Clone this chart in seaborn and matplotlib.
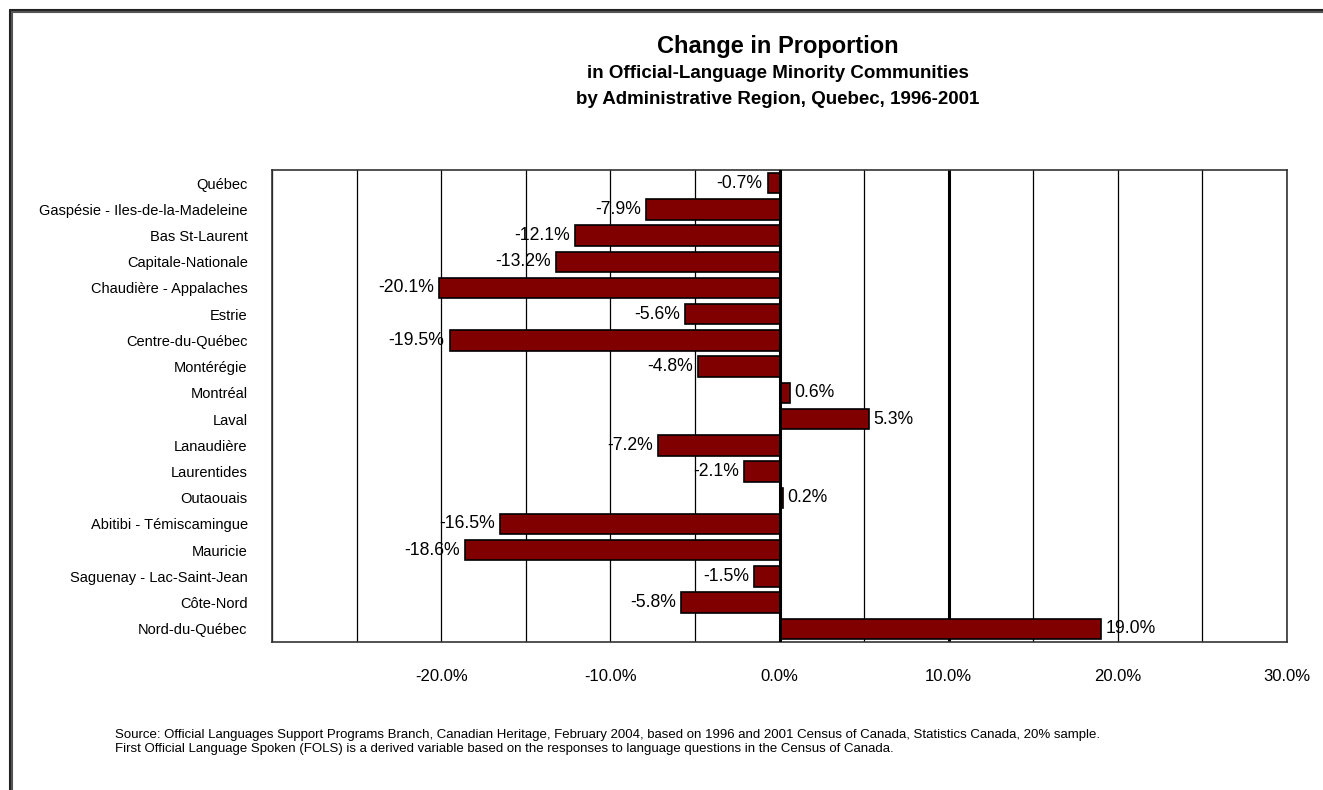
import matplotlib
matplotlib.use("Agg")
import matplotlib.pyplot as plt
import seaborn as sns
import pandas as pd
from matplotlib.lines import Line2D

regions = ["Québec", "Gaspésie - Iles-de-la-Madeleine", "Bas St-Laurent", "Capitale-Nationale",
           "Chaudière - Appalaches", "Estrie", "Centre-du-Québec", "Montérégie", "Montréal",
           "Laval", "Lanaudière", "Laurentides", "Outaouais", "Abitibi - Témiscamingue",
           "Mauricie", "Saguenay - Lac-Saint-Jean", "Côte-Nord", "Nord-du-Québec"]
change_pct = [-0.7, -7.9, -12.1, -13.2, -20.1, -5.6, -19.5, -4.8, 0.6,
              5.3, -7.2, -2.1, 0.2, -16.5, -18.6, -1.5, -5.8, 19.0]
tick_values = [-30, -25, -20, -15, -10, -5, 0, 5, 10, 15, 20, 25, 30]
tick_labels = ["", "", "-20.0%", "", "-10.0%", "", "0.0%", "", "10.0%", "", "20.0%", "", "30.0%"]

title = "Change in Proportion"
subtitle = "in Official-Language Minority Communities\nby Administrative Region, Quebec, 1996-2001"
footnote = ("Source: Official Languages Support Programs Branch, Canadian Heritage, February 2004, based on 1996 and 2001 Census of Canada, Statistics Canada, 20% sample.\n"
            "First Official Language Spoken (FOLS) is a derived variable based on the responses to language questions in the Census of Canada.")

sns.set_theme(style="white")
plt.rcParams['font.family'] = ['Liberation Sans', 'DejaVu Sans']
plt.rcParams['text.color'] = 'black'
plt.rcParams['xtick.color'] = 'black'
plt.rcParams['ytick.color'] = 'black'

W, H = 1323, 790
fig = plt.figure(figsize=(W / 100, H / 100), dpi=100)
fig.patch.set_facecolor("white")

ax = fig.add_axes([272 / W, 1 - 642 / H, (1287 - 272) / W, (642 - 170) / H])

df = pd.DataFrame({"region": regions, "change": change_pct})
sns.barplot(data=df, y="region", x="change", orient="h", color="#800000",
            edgecolor="black", linewidth=1.2, width=0.78, saturation=1, ax=ax, zorder=3)

ax.set_xlim(-30, 30)
ax.set_xticks(tick_values)
ax.set_xticklabels(tick_labels, fontsize=12)
ax.grid(axis="x", color="black", linewidth=0.9, zorder=0)
ax.grid(axis="y", visible=False)
ax.axvline(0, color="black", linewidth=2.2, zorder=4)
ax.axvline(10, color="black", linewidth=2.2, zorder=1)
ax.tick_params(axis="x", length=0, pad=19.5)
ax.tick_params(axis="y", length=0, pad=17.5, labelsize=10.5)
ax.set_xlabel("")
ax.set_ylabel("")
for s in ax.spines.values():
    s.set_visible(True)
    s.set_color("#333333")
    s.set_linewidth(1.2)

for i, v in enumerate(change_pct):
    lbl = f"{v:.1f}%"
    if v < 0:
        ax.text(v - 0.3, i, lbl, ha="right", va="center", fontsize=12.7, zorder=5)
    else:
        ax.text(v + 0.25, i, lbl, ha="left", va="center", fontsize=12.7, zorder=5)

fig.text(778 / W, 1 - 47 / H, title, ha="center", va="center", fontsize=17, fontweight="bold")
fig.text(778 / W, 1 - 74 / H, subtitle.split("\n")[0], ha="center", va="center", fontsize=13.5,
         fontweight="bold")
fig.text(778 / W, 1 - 100 / H, subtitle.split("\n")[1], ha="center", va="center", fontsize=13.5,
         fontweight="bold")
fig.text(115 / W, 1 - 742 / H, footnote, ha="left", va="center", fontsize=9.5, linespacing=1.2)

# outer frame (double line at left and top)
for off, lw, col in [(9.5, 1.5, "#222222"), (12, 1.5, "#555555")]:
    fig.add_artist(Line2D([off / W, off / W], [0, 1 - off / H], transform=fig.transFigure,
                          color=col, linewidth=lw))
    fig.add_artist(Line2D([off / W, 1], [1 - off / H, 1 - off / H], transform=fig.transFigure,
                          color=col, linewidth=lw))

fig.savefig("out.png", dpi=100, facecolor="white")
